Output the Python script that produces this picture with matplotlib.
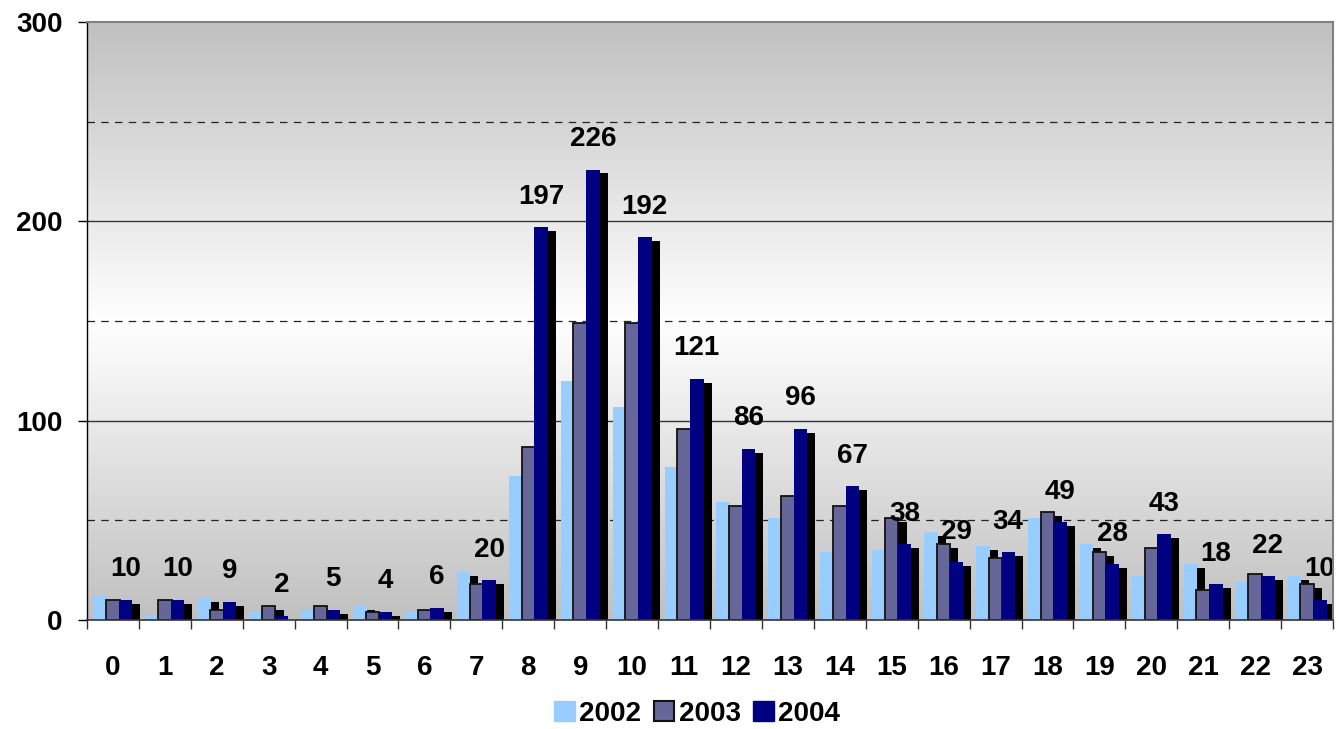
import numpy as np
import matplotlib.pyplot as plt
from matplotlib.colors import LinearSegmentedColormap
from matplotlib.patches import Patch

hours = list(range(24))
years = ['2002', '2003', '2004']
v2002 = [12, 2, 11, 4, 5, 7, 4, 24, 72, 120, 107, 77, 59, 51, 34, 35, 44, 37, 51, 38, 22, 28, 19, 22]
v2003 = [10, 10, 5, 7, 7, 4, 5, 18, 87, 149, 149, 96, 57, 62, 57, 51, 38, 31, 54, 34, 36, 15, 23, 18]
v2004 = [10, 10, 9, 2, 5, 4, 6, 20, 197, 226, 192, 121, 86, 96, 67, 38, 29, 34, 49, 28, 43, 18, 22, 10]

colors = ['#99CCFF', '#666699', '#000080']
edges = [None, '#111111', None]

plt.rcParams['font.family'] = ['Liberation Sans', 'DejaVu Sans']
plt.rcParams['font.weight'] = 'bold'

fig = plt.figure(figsize=(13.39, 7.29), dpi=100)
ax = fig.add_axes([87 / 1339, 109 / 729, 1246 / 1339, 598 / 729])

x = np.arange(len(hours))
ax.set_xlim(-0.5, len(hours) - 0.5)
ax.set_ylim(0, 300)

# gray-white-gray background
cmap = LinearSegmentedColormap.from_list('bg', ['#C0C0C0', '#FFFFFF', '#C0C0C0'])
grad = np.linspace(0, 1, 256).reshape(-1, 1)
ax.imshow(grad, cmap=cmap, aspect='auto', extent=(-0.5, 23.5, 0, 300),
          origin='lower', zorder=0)

# grid lines
for yv in (100, 200):
    ax.axhline(yv, color='#333333', lw=1.0, zorder=1)
for yv in (50, 150, 250):
    ax.axhline(yv, color='#222222', lw=0.9, ls=(0, (6, 5)), zorder=1)

width = 0.26
offsets = [-0.245, 0.0, 0.245]
sdx, sdy = 0.155, 2.0
series = [v2002, v2003, v2004]

# each series: black drop shadow first, then the bars
for i, vals in enumerate(series):
    ax.bar(x + offsets[i] + sdx, vals, width, bottom=-sdy, color='black',
           zorder=2 + 2 * i)
    ax.bar(x + offsets[i], vals, width, color=colors[i],
           edgecolor=edges[i] if edges[i] else colors[i],
           linewidth=1.3 if edges[i] else 0, zorder=3 + 2 * i)

# value labels on the 2004 bars
for xi, v in zip(x, v2004):
    ax.annotate(str(v), (xi + offsets[2], v), xytext=(0, 17),
                textcoords='offset points', ha='center', va='baseline',
                fontsize=20, fontweight='bold', zorder=10,
                annotation_clip=False)

# axes frame
for side in ('top', 'right'):
    ax.spines[side].set_color('#808080')
    ax.spines[side].set_linewidth(1.5)
ax.spines['left'].set_color('black')
ax.spines['bottom'].set_color('#333333')
ax.spines['left'].set_linewidth(1.0)
ax.spines['bottom'].set_linewidth(1.2)
for sp in ax.spines.values():
    sp.set_zorder(12)

ax.set_yticks([0, 100, 200, 300])
ax.tick_params(axis='y', length=6.5, width=1, pad=11, labelsize=20)
ax.set_xticks(x)
ax.set_xticklabels([str(h) for h in hours])
ax.tick_params(axis='x', which='major', length=0, pad=25, labelsize=20)
ax.set_xticks(np.arange(-0.5, 24, 1), minor=True)
ax.tick_params(axis='x', which='minor', length=6.5, width=1, color='#333333')
for lab in ax.get_xticklabels() + ax.get_yticklabels():
    lab.set_fontweight('bold')

handles = [Patch(facecolor=colors[0], edgecolor=colors[0]),
           Patch(facecolor=colors[1], edgecolor='#111111', linewidth=1.5),
           Patch(facecolor=colors[2], edgecolor=colors[2])]
fig.legend(handles, years, loc='center', bbox_to_anchor=(697 / 1339, 1 - 714 / 729),
           ncol=3, frameon=False, fontsize=20, handlelength=0.75,
           handleheight=0.75, handletextpad=0.15, columnspacing=0.45,
           prop={'weight': 'bold', 'size': 20})

fig.savefig('out.png', dpi=100)
